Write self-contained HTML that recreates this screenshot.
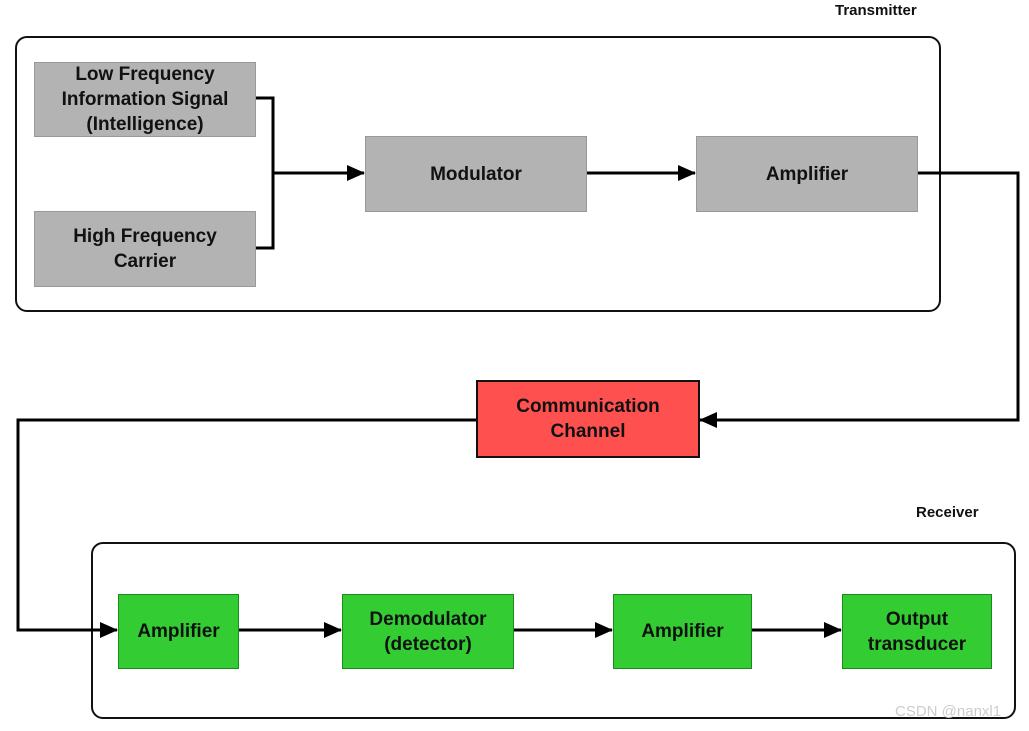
<!DOCTYPE html>
<html><head><style>
body{margin:0;width:1029px;height:731px;background:#fff;position:relative;overflow:hidden;font-family:"Liberation Sans",Arial,sans-serif;}
.b{position:absolute;display:flex;align-items:center;justify-content:center;text-align:center;font-weight:bold;font-size:19px;line-height:25px;color:#111;box-sizing:border-box;}
.g{background:#b3b3b3;border:1px solid #999;}
.gr{background:#33cc33;border:1px solid #1a8a1a;}
.lbl{position:absolute;font-weight:bold;font-size:15px;color:#111;}
.frame{position:absolute;border:2px solid #111;border-radius:12px;box-sizing:border-box;}
</style></head><body>
<div class="lbl" style="left:835px;top:2px">Transmitter</div>
<div class="frame" style="left:15px;top:36px;width:926px;height:276px"></div>
<div class="lbl" style="left:916px;top:504px">Receiver</div>
<div class="frame" style="left:91px;top:542px;width:925px;height:177px"></div>
<svg style="position:absolute;left:0;top:0" width="1029" height="731">
<defs><marker id="a" markerWidth="10" markerHeight="10" refX="9" refY="5" orient="auto" markerUnits="userSpaceOnUse"><path d="M0,0 L10,5 L0,10z" fill="#000"/></marker>
<marker id="b" markerWidth="18" markerHeight="16" refX="17" refY="8" orient="auto" markerUnits="userSpaceOnUse"><path d="M0,0 L18,8 L0,16z" fill="#000"/></marker></defs>
<g stroke="#000" stroke-width="3" fill="none">
<path d="M255,98 H273 V248 H255"/>
<path d="M273,173 H364" marker-end="url(#b)"/>
<path d="M586,173 H695" marker-end="url(#b)"/>
<path d="M917,173 H1018 V420 H700" marker-end="url(#b)"/>
<path d="M477,420 H18 V630 H117" marker-end="url(#b)"/>
<path d="M238,630 H341" marker-end="url(#b)"/>
<path d="M513,630 H612" marker-end="url(#b)"/>
<path d="M751,630 H841" marker-end="url(#b)"/>
</g></svg>
<div class="b g" style="left:34px;top:62px;width:222px;height:75px">Low Frequency<br>Information Signal<br>(Intelligence)</div>
<div class="b g" style="left:34px;top:211px;width:222px;height:76px">High Frequency<br>Carrier</div>
<div class="b g" style="left:365px;top:136px;width:222px;height:76px">Modulator</div>
<div class="b g" style="left:696px;top:136px;width:222px;height:76px">Amplifier</div>
<div class="b" style="left:476px;top:380px;width:224px;height:78px;background:#ff5050;border:2px solid #111">Communication<br>Channel</div>
<div class="b gr" style="left:118px;top:594px;width:121px;height:75px">Amplifier</div>
<div class="b gr" style="left:342px;top:594px;width:172px;height:75px">Demodulator<br>(detector)</div>
<div class="b gr" style="left:613px;top:594px;width:139px;height:75px">Amplifier</div>
<div class="b gr" style="left:842px;top:594px;width:150px;height:75px">Output<br>transducer</div>
<div style="position:absolute;left:895px;top:703px;font-size:15px;color:#ccc">CSDN @nanxl1</div>
</body></html>
